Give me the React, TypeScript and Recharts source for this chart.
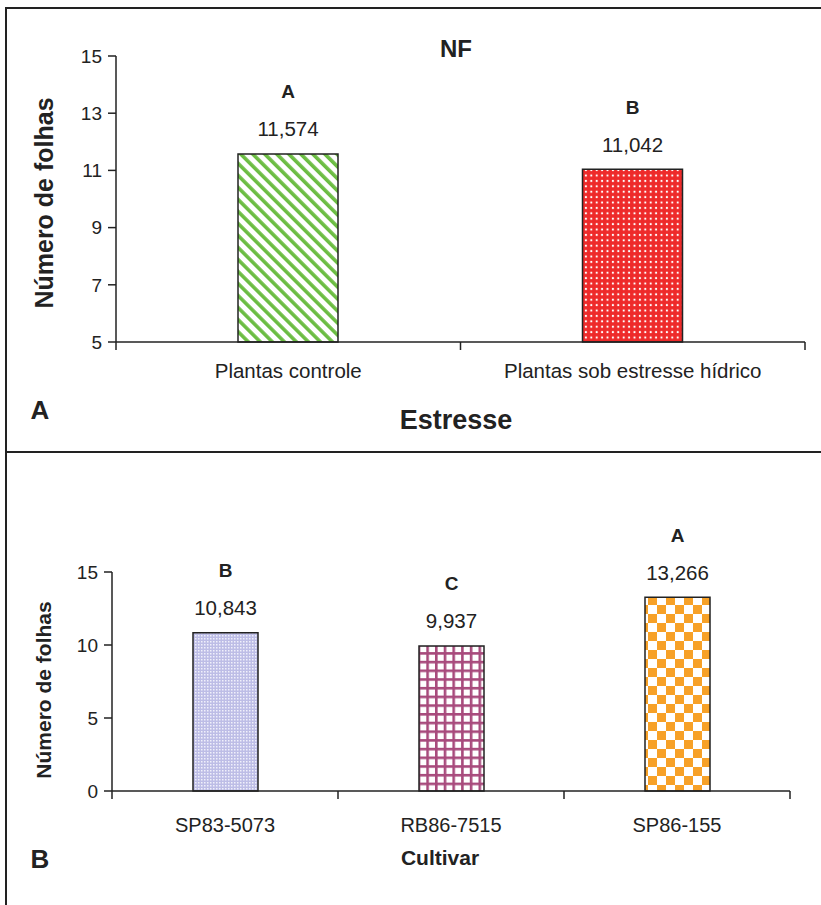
import React from 'react';
import { BarChart, Bar, XAxis, YAxis, Cell, LabelList } from 'recharts';

// painel A - estresse
const stressCats = ['Plantas controle', 'Plantas sob estresse hídrico'];
const stressValues = [11.574, 11.042];
const stressLetters = ['A', 'B'];
const stressTicks = [5, 7, 9, 11, 13, 15];

// painel B - cultivar
const cultivarCats = ['SP83-5073', 'RB86-7515', 'SP86-155'];
const cultivarValues = [10.843, 9.937, 13.266];
const cultivarLetters = ['B', 'C', 'A'];
const cultivarTicks = [0, 5, 10, 15];

const stressFills = ['url(#pStripe)', 'url(#pDots)'];
const cultivarFills = ['url(#pFine)', 'url(#pGrid)', 'url(#pCheck)'];

const stressData = stressCats.map((name, i) => ({ name, value: stressValues[i] }));
const cultivarData = cultivarCats.map((name, i) => ({ name, value: cultivarValues[i] }));

const FONT = '"Liberation Sans", Arial, sans-serif';
const INK = '#222';

const fmt = (v: number) => v.toFixed(3).replace('.', ',');

const makeTick = (halfBand: number, n: number, dy: number, size: number) => (props: any) => {
  const { x, y, payload, index } = props;
  return (
    <g>
      <line x1={x - halfBand} y1={y} x2={x - halfBand} y2={y + 8} stroke={INK} strokeWidth={1.5} />
      {index === n - 1 && (
        <line x1={x + halfBand} y1={y} x2={x + halfBand} y2={y + 8} stroke={INK} strokeWidth={1.5} />
      )}
      <text x={x} y={y + dy} textAnchor="middle" dominantBaseline="central" fontFamily={FONT} fontSize={size} fill={INK}>
        {payload.value}
      </text>
    </g>
  );
};

const makeLabel = (letters: string[], size: number) => (props: any) => {
  const { x, y, width, value, index } = props;
  const cx = x + width / 2;
  return (
    <g>
      <text x={cx} y={y - 62} textAnchor="middle" dominantBaseline="central" fontFamily={FONT} fontSize={19} fontWeight="bold" fill={INK}>
        {letters[index]}
      </text>
      <text x={cx} y={y - 25} textAnchor="middle" dominantBaseline="central" fontFamily={FONT} fontSize={size} fill={INK}>
        {fmt(value)}
      </text>
    </g>
  );
};

const Patterns = () => (
  <svg width={0} height={0} style={{ position: 'absolute' }}>
    <defs>
      <pattern id="pStripe" patternUnits="userSpaceOnUse" width={8.5} height={8.5} patternTransform="rotate(-45)">
        <rect width={8.5} height={8.5} fill="#fff" />
        <rect width={3.6} height={8.5} fill="#6cbd43" />
      </pattern>
      <pattern id="pDots" patternUnits="userSpaceOnUse" width={5.4} height={5.4}>
        <rect width={5.4} height={5.4} fill="#ee2a2a" />
        <circle cx={2.7} cy={2.7} r={1.1} fill="#fff" />
      </pattern>
      <pattern id="pFine" patternUnits="userSpaceOnUse" width={3} height={3}>
        <rect width={3} height={3} fill="#bdbde6" />
        <rect width={1.5} height={1.5} fill="#f0f0fb" />
      </pattern>
      <pattern id="pGrid" patternUnits="userSpaceOnUse" width={8.7} height={8.7}>
        <rect width={8.7} height={8.7} fill="#fff" />
        <rect width={2.6} height={8.7} fill="#a84a7c" />
        <rect width={8.7} height={2.6} fill="#a84a7c" />
      </pattern>
      <pattern id="pCheck" patternUnits="userSpaceOnUse" width={18} height={18}>
        <rect width={18} height={18} fill="#fff" />
        <rect width={9} height={9} fill="#f7a127" />
        <rect x={9} y={9} width={9} height={9} fill="#f7a127" />
      </pattern>
    </defs>
  </svg>
);

const App = () => {
  // painel A: area de plotagem x 116..805, y 56..342
  const topHalf = (805 - 116) / stressCats.length / 2;
  // painel B: area de plotagem x 112..790, y 120..339 (relativo)
  const botHalf = (790 - 112) / cultivarCats.length / 2;

  return (
    <div style={{ position: 'absolute', left: 0, top: 0, width: 821, height: 905, background: '#fff', overflow: 'hidden' }}>
      <Patterns />

      <div style={{ position: 'absolute', left: 0, top: 0 }}>
        <BarChart width={821} height={452} data={stressData} margin={{ top: 56, right: 16, bottom: 50, left: 0 }}>
          <YAxis
            width={116}
            domain={[5, 15]}
            ticks={stressTicks}
            interval={0}
            tickSize={8}
            tickMargin={6}
            axisLine={{ stroke: INK, strokeWidth: 1.5 }}
            tickLine={{ stroke: INK, strokeWidth: 1.5 }}
            tick={{ fontSize: 19, fill: INK, fontFamily: FONT }}
          />
          <XAxis
            dataKey="name"
            height={60}
            tickSize={0}
            tickMargin={0}
            tickLine={false}
            axisLine={{ stroke: INK, strokeWidth: 1.5 }}
            tick={makeTick(topHalf, stressCats.length, 28, 20.5)}
            interval={0}
          />
          <Bar dataKey="value" barSize={100} stroke={INK} strokeWidth={1.5} isAnimationActive={false}>
            {stressData.map((d, i) => (
              <Cell key={d.name} fill={stressFills[i]} />
            ))}
            <LabelList dataKey="value" content={makeLabel(stressLetters, 20.5)} />
          </Bar>
        </BarChart>
      </div>

      <div style={{ position: 'absolute', left: 0, top: 452 }}>
        <BarChart width={821} height={453} data={cultivarData} margin={{ top: 120, right: 31, bottom: 54, left: 0 }}>
          <YAxis
            width={112}
            domain={[0, 15]}
            ticks={cultivarTicks}
            interval={0}
            tickSize={8}
            tickMargin={6}
            axisLine={{ stroke: INK, strokeWidth: 1.5 }}
            tickLine={{ stroke: INK, strokeWidth: 1.5 }}
            tick={{ fontSize: 19, fill: INK, fontFamily: FONT }}
          />
          <XAxis
            dataKey="name"
            height={60}
            tickSize={0}
            tickMargin={0}
            tickLine={false}
            axisLine={{ stroke: INK, strokeWidth: 1.5 }}
            tick={makeTick(botHalf, cultivarCats.length, 34, 20)}
            interval={0}
          />
          <Bar dataKey="value" barSize={65} stroke={INK} strokeWidth={1.5} isAnimationActive={false}>
            {cultivarData.map((d, i) => (
              <Cell key={d.name} fill={cultivarFills[i]} />
            ))}
            <LabelList dataKey="value" content={makeLabel(cultivarLetters, 20.5)} />
          </Bar>
        </BarChart>
      </div>

      <svg width={821} height={905} style={{ position: 'absolute', left: 0, top: 0, pointerEvents: 'none' }}>
        <rect x={6} y={8} width={900} height={1000} fill="none" stroke={INK} strokeWidth={2} />
        <line x1={6} y1={452} x2={821} y2={452} stroke={INK} strokeWidth={2} />
        <g fontFamily={FONT} fontWeight="bold" fill={INK} textAnchor="middle" dominantBaseline="central">
          <text x={456} y={48} fontSize={24}>NF</text>
          <text x={44} y={203} fontSize={25} transform="rotate(-90 44 203)">Número de folhas</text>
          <text x={456} y={420} fontSize={27}>Estresse</text>
          <text x={40} y={410} fontSize={26}>A</text>
          <text x={43} y={690} fontSize={21} transform="rotate(-90 43 690)">Número de folhas</text>
          <text x={440} y={857} fontSize={21}>Cultivar</text>
          <text x={40} y={859} fontSize={26}>B</text>
        </g>
      </svg>
    </div>
  );
};

export default App;
